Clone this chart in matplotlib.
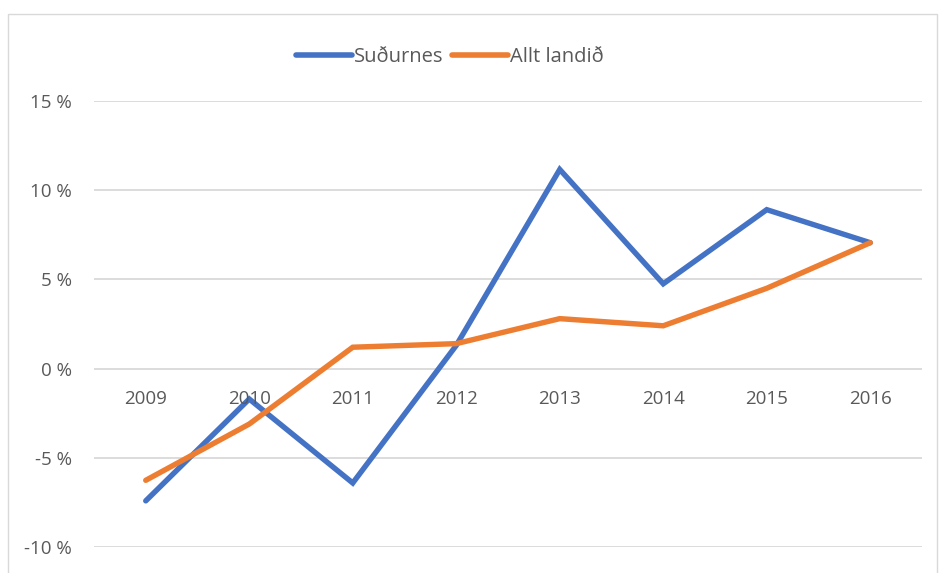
import matplotlib
matplotlib.use("Agg")
import matplotlib.pyplot as plt
from matplotlib.patches import Rectangle

# Values (percent)
years = ["2009", "2010", "2011", "2012", "2013", "2014", "2015", "2016"]
sudurnes = [-7.4, -1.7, -6.4, 1.3, 11.15, 4.75, 8.9, 7.05]
allt_landid = [-6.25, -3.1, 1.2, 1.4, 2.8, 2.4, 4.5, 7.05]
y_ticks = [-10, -5, 0, 5, 10, 15]

BLUE = "#4472C4"
ORANGE = "#ED7D31"
TEXT = "#595959"
GRID = "#d9d9d9"

plt.rcParams["font.family"] = ["Open Sans", "DejaVu Sans"]

W, H = 939, 573
fig = plt.figure(figsize=(W / 100, H / 100), dpi=100)

# chart area border (bottom edge is cut off in the original)
fig.patches.append(Rectangle((8 / W, -0.05), 929 / W, 1 - 14 / H + 0.05,
                             transform=fig.transFigure, fill=False,
                             edgecolor=GRID, linewidth=1.0))

left, right = 94 / W, 922 / W
bottom, top = 1 - 547.3 / H, 1 - 100.7 / H
ax = fig.add_axes([left, bottom, right - left, top - bottom])

x = list(range(len(years)))
ax.plot(x, sudurnes, color=BLUE, lw=3.9, solid_capstyle="round",
        solid_joinstyle="miter", label="Suðurnes", zorder=3)
ax.plot(x, allt_landid, color=ORANGE, lw=3.9, solid_capstyle="round",
        solid_joinstyle="miter", label="Allt landið", zorder=3)

ax.set_xlim(-0.5, len(years) - 0.5)
ax.set_ylim(-10, 15)
ax.set_yticks(y_ticks)
ax.set_yticklabels([f"{v} %" for v in y_ticks])
ax.tick_params(axis="y", length=0, pad=16, labelsize=13.5, labelcolor=TEXT)
ax.set_xticks([])
ax.grid(axis="y", color=GRID, lw=1.3)
ax.set_axisbelow(True)
for s in ax.spines.values():
    s.set_visible(False)

# category labels sit just below the zero line
for i, yr in enumerate(years):
    ax.annotate(yr, (i, 0), xytext=(0, -21.5), textcoords="offset points",
                ha="center", va="center", fontsize=13.5, color=TEXT)

leg = fig.legend(loc="center", bbox_to_anchor=(450 / W, 1 - 57 / H), ncol=2,
                 frameon=False, fontsize=14.5, handlelength=2.8,
                 handletextpad=0.1, columnspacing=0.4, labelcolor=TEXT)
for line in leg.get_lines():
    line.set_linewidth(4.0)

fig.savefig("out.png", dpi=100)
